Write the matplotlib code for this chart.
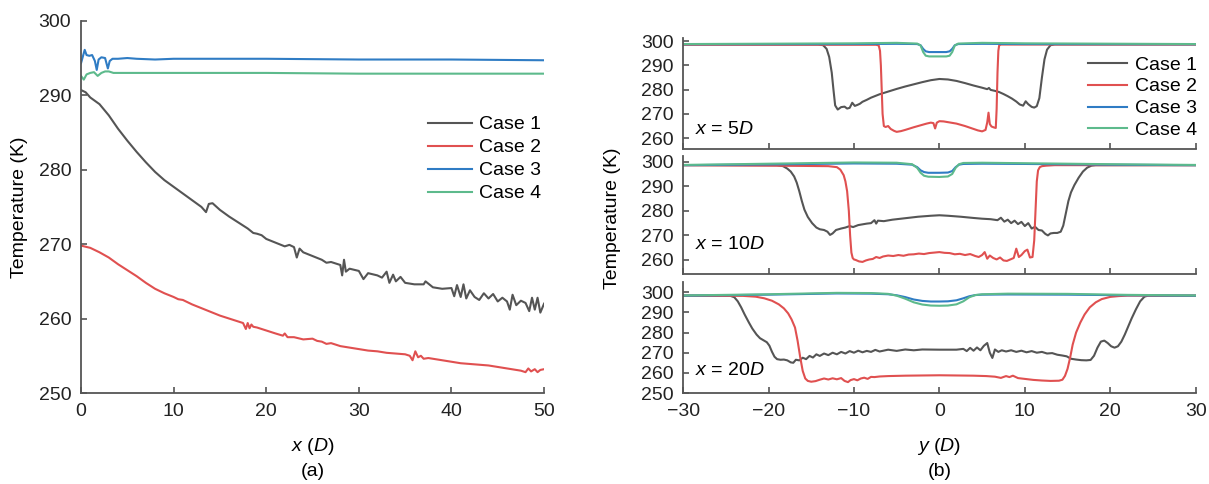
import numpy as np
import matplotlib
matplotlib.use("Agg")
import matplotlib.pyplot as plt

plt.rcParams['font.family'] = ['Liberation Sans', 'DejaVu Sans']
plt.rcParams['mathtext.fontset'] = 'custom'
plt.rcParams['mathtext.rm'] = 'Liberation Sans'
plt.rcParams['mathtext.it'] = 'Liberation Sans:italic'

labels = ['Case 1', 'Case 2', 'Case 3', 'Case 4']
colors = ['#555555', '#e05050', '#2f7cc4', '#5dba8c']

# ---- (a) centreline temperature vs x ----
a1_x = [0, 0.5, 1, 2, 3, 4, 5, 6, 7, 8,
        9, 10, 11, 12, 13, 13.5, 13.8, 14.2, 15, 16,
        17, 18, 18.6, 19, 19.5, 20, 21, 22, 22.5, 23,
        23.3, 23.6, 24, 25, 26, 26.5, 27, 28, 28.2, 28.4,
        28.6, 29, 30, 30.5, 31, 32, 32.5, 33, 33.3, 33.7,
        34, 34.5, 35, 36, 37, 37.2, 38, 39, 40, 40.3,
        40.6, 41, 41.3, 41.6, 42, 42.5, 43, 43.5, 44, 44.5,
        45, 45.5, 46, 46.3, 46.6, 47, 47.5, 48, 48.4, 48.7,
        49, 49.3, 49.6, 50]
a1_T = [290.7, 290.4, 289.7, 288.8, 287.3, 285.5, 283.9, 282.4, 281.0, 279.7,
        278.6, 277.7, 276.8, 275.9, 275.0, 274.3, 275.4, 275.5, 274.6, 273.7,
        272.9, 272.1, 271.5, 271.4, 271.2, 270.7, 270.2, 269.7, 269.9, 269.6,
        268.2, 269.4, 268.9, 268.4, 267.9, 267.5, 267.6, 267.2, 265.8, 267.9,
        266.3, 266.7, 266.4, 265.3, 266.1, 265.8, 265.5, 266.3, 264.8, 265.9,
        265.0, 265.6, 264.8, 264.6, 264.6, 265.0, 264.2, 264.0, 264.1, 263.0,
        264.5, 262.9, 264.6, 262.7, 263.8, 262.9, 262.5, 263.4, 262.7, 263.3,
        262.3, 262.8, 262.3, 261.2, 263.2, 261.8, 262.4, 262.1, 261.0, 262.8,
        261.2, 262.8, 260.8, 262.0]

a2_x = [0, 1, 2, 3, 4, 5, 6, 7, 8, 9,
        10, 10.5, 11, 12, 13, 14, 15, 16, 17, 17.5,
        17.8, 18.0, 18.2, 18.4, 18.6, 19, 20, 21, 21.8, 22,
        22.3, 23, 24, 25, 25.5, 26, 26.5, 27, 28, 29,
        30, 31, 32, 33, 34, 35, 35.5, 35.8, 36.1, 36.4,
        36.7, 37, 37.5, 38, 39, 40, 41, 42, 43, 44,
        45, 46, 47, 47.5, 48, 48.3, 48.6, 49, 49.3, 49.6,
        50]
a2_T = [269.8, 269.5, 268.9, 268.2, 267.3, 266.5, 265.7, 264.8, 264.0, 263.4,
        262.9, 262.6, 262.5, 261.9, 261.4, 260.9, 260.4, 260.0, 259.6, 259.4,
        258.6, 259.4, 258.7, 259.2, 258.9, 258.8, 258.4, 258.0, 257.7, 258.0,
        257.5, 257.5, 257.2, 257.3, 257.0, 256.9, 256.6, 256.7, 256.3, 256.1,
        255.9, 255.7, 255.6, 255.4, 255.3, 255.2, 255.0, 254.4, 255.6, 254.8,
        255.0, 254.6, 254.7, 254.6, 254.4, 254.2, 254.0, 253.9, 253.8, 253.7,
        253.5, 253.3, 253.1, 253.0, 252.8, 253.3, 252.9, 253.2, 252.8, 253.1,
        253.2]

a3_x = [0, 0.2, 0.4, 0.6, 0.9, 1.2, 1.5, 1.7, 1.9, 2.2, 2.6, 2.9, 3.1, 3.4,
        4, 5, 6, 8, 10, 20, 30, 40, 50]
a3_T = [294.3, 295.2, 296.1, 295.4, 295.3, 295.4, 294.6, 293.4, 294.8, 295.1,
        295.0, 293.6, 294.6, 294.9, 294.9, 295.0, 294.9, 294.8, 294.9, 294.9,
        294.8, 294.8, 294.7]

a4_x = [0, 0.3, 0.6, 1.0, 1.4, 1.8, 2.2, 2.6, 3.0, 3.5, 4, 6, 10, 20, 30, 40, 50]
a4_T = [292.6, 292.1, 292.8, 293.0, 293.1, 292.6, 293.0, 293.2, 293.2, 293.0,
        293.0, 293.0, 293.0, 293.0, 292.9, 292.9, 292.9]

# ---- (b) profiles across y at x = 5D ----
b5_c1_y = [-30, -14.2, -13.6, -13.2, -12.9, -12.6, -12.4, -12.2, -11.9, -11.5,
           -11.1, -10.8, -10.5, -10.2, -9.9, -9.6, -9.3, -9.0, -8.5, -8,
           -7, -6, -5, -4, -3, -2, -1, 0, 1, 2,
           3, 4, 5, 5.6, 5.8, 6.0, 6.5, 7, 7.5, 8,
           8.5, 9, 9.4, 9.8, 10.1, 10.4, 10.8, 11.1, 11.4, 11.7,
           12.0, 12.3, 12.6, 13.0, 13.5, 30]
b5_c1_T = [298.7, 298.7, 298.3, 296.8, 293.5, 287, 280, 273.5, 271.8, 272.8,
           273.0, 272.2, 272.5, 274.6, 273.3, 273.7, 274.2, 275.0, 275.8, 276.7,
           278.1, 279.2, 280.3, 281.3, 282.2, 283.1, 283.9, 284.4, 284.2, 283.6,
           282.7, 281.7, 280.8, 280.2, 280.7, 279.9, 279.5, 279.0, 278.2, 277.3,
           276.3, 275.1, 273.9, 273.4, 275.2, 274.0, 272.9, 272.6, 273.2, 276.5,
           285, 292.5, 296.5, 298.3, 298.7, 298.7]
b5_c2_y = [-30, -7.4, -7.1, -6.95, -6.85, -6.75, -6.65, -6.5, -6.3, -6.0,
           -5.7, -5.3, -5.0, -4.5, -4, -3, -2, -1.5, -1, -0.7,
           -0.5, -0.3, 0, 0.5, 1, 2, 3, 4, 4.5, 5.0,
           5.4, 5.6, 5.75, 5.9, 6.1, 6.4, 6.6, 6.7, 6.8, 6.9,
           7.0, 7.2, 30]
b5_c2_T = [298.5, 298.5, 298.2, 296, 290, 280, 270, 265, 264.6, 265.0,
           263.8, 263.0, 262.6, 262.9, 263.4, 264.5, 265.5, 266.0, 266.4, 266.2,
           264.0, 266.4, 267.0, 266.9, 266.6, 266.0, 265.0, 263.8, 263.2, 262.8,
           263.4, 266.5, 270.5, 265.8, 264.8, 264.4, 264.2, 272, 287, 296,
           298.3, 298.6, 298.6]
b5_c34_y = [-30, -10, -5, -2.6, -2.2, -1.9, -1.6, -1.2, 0, 0.8,
            1.2, 1.5, 1.8, 2.2, 5, 10, 30]
b5_c3_T = [298.7, 298.8, 298.9, 298.8, 298.3, 296.8, 295.8, 295.5, 295.5, 295.5,
           295.8, 296.8, 298.3, 298.8, 298.9, 298.8, 298.7]
b5_c4_T = [298.8, 299.1, 299.3, 299.0, 298.2, 295.5, 294.0, 293.7, 293.7, 293.7,
           294.0, 295.5, 298.2, 299.0, 299.3, 299.1, 298.8]

# ---- x = 10D ----
b10_c1_y = [-30, -19, -18.3, -17.8, -17.4, -17.0, -16.7, -16.4, -16.1, -15.8,
            -15.4, -14.9, -14.4, -14.0, -13.5, -13.1, -12.8, -12.5, -12.1, -11.5,
            -11, -10.5, -10.1, -9.5, -9, -8.5, -8, -7.6, -7.4, -7.2,
            -6.5, -5.5, -4, -2.5, -1, 0, 1, 2.5, 4, 5,
            6, 6.8, 7.2, 7.6, 8, 8.4, 8.8, 9.2, 9.6, 10,
            10.4, 10.8, 11.2, 11.6, 12.0, 12.4, 12.7, 13.0, 13.4, 13.8,
            14.2, 14.5, 14.8, 15.1, 15.4, 15.8, 16.3, 16.8, 17.3, 17.8,
            18.3, 30]
b10_c1_T = [298.6, 298.6, 298.2, 297.2, 296.0, 294, 291.5, 288, 284, 280.5,
            277.5, 275, 273.2, 272.5, 272.2, 271.5, 270.2, 270.8, 272.2, 272.8,
            273.2, 273.8, 273.4, 274.2, 274.5, 274.8, 275.0, 276.2, 274.8, 276,
            275.8, 276.4, 277, 277.6, 278, 278.2, 278, 277.6, 277.1, 276.8,
            276.6, 276.2, 277.2, 275.6, 276.4, 275, 276, 274.6, 275.5, 273.8,
            275, 272.8, 273.5, 272.2, 272, 270.6, 270, 270.8, 271, 271,
            271.5, 274, 279, 284, 287.5, 290.5, 293.5, 296, 297.6, 298.4,
            298.6, 298.6]
b10_c2_y = [-30, -20, -16, -13, -12, -11.6, -11.2, -11.0, -10.8, -10.6,
            -10.45, -10.3, -10.15, -10.0, -9.8, -9.4, -9.0, -8.6, -8.2, -7.8,
            -7.4, -7.0, -6.6, -6.0, -5.4, -4.8, -4.2, -3.6, -3.0, -2.4,
            -1.8, -1.2, -0.6, 0, 0.6, 1.2, 1.8, 2.4, 3.0, 3.6,
            4.2, 4.6, 5.0, 5.3, 5.6, 5.9, 6.3, 6.7, 7.1, 7.5,
            7.9, 8.3, 8.7, 9.0, 9.3, 9.6, 10.0, 10.3, 10.6, 10.9,
            11.1, 11.25, 11.4, 11.55, 11.75, 12.0, 12.5, 13.5, 30]
b10_c2_T = [298.6, 298.4, 298.3, 298.2, 297.8, 296.8, 294.5, 292, 288, 280,
            270, 263, 260.8, 260.2, 260.0, 259.4, 259.2, 259.8, 260.2, 260.4,
            261.2, 260.8, 261.4, 261.8, 261.6, 262.0, 261.7, 262.2, 262.3, 262.6,
            262.4, 262.8, 263.0, 263.2, 262.9, 262.8, 262.3, 262.5, 262.0, 262.4,
            261.6, 261.2, 262.0, 263.2, 260.5, 261.8, 260.8, 260.2, 261.0, 259.8,
            259.6, 260.2, 260.8, 264.6, 261.2, 262.0, 263.6, 264.2, 261.0, 261.2,
            268, 280, 292, 296.5, 297.8, 298.2, 298.4, 298.6, 298.6]
b10_c34_y = [-30, -20, -10, -5, -3.2, -2.6, -2.2, -1.8, -1.3, 0,
             1.0, 1.5, 1.9, 2.3, 2.8, 5, 10, 20, 30]
b10_c3_T = [298.6, 298.9, 299.3, 299.2, 298.8, 297.8, 296.5, 295.8, 295.5, 295.5,
            295.6, 296.2, 297.8, 298.8, 299.1, 299.2, 299.1, 298.8, 298.6]
b10_c4_T = [298.7, 299.2, 299.7, 299.6, 299.0, 297.5, 295.5, 294.3, 293.9, 293.8,
            294.0, 295.0, 297.5, 299.0, 299.5, 299.6, 299.4, 299.0, 298.7]

# ---- x = 20D ----
b20_c1_y = [-30, -24.5, -24.0, -23.6, -23.2, -22.8, -22.3, -21.9, -21.4, -21.0,
            -20.6, -20.2, -19.9, -19.6, -19.3, -19.0, -18.6, -18.2, -17.8, -17.4,
            -17.1, -16.8, -16.4, -16.0, -15.6, -15.2, -14.8, -14.4, -14.0, -13.5,
            -13.0, -12.5, -12.0, -11.5, -11.0, -10.5, -10.0, -9.5, -9.0, -8.5,
            -8.0, -7.5, -7.0, -6.0, -5.0, -4.0, -3.0, -2.0, 0, 2.0,
            2.8, 3.2, 3.6, 4.0, 4.4, 4.8, 5.2, 5.6, 5.9, 6.2,
            6.5, 6.9, 7.3, 7.8, 8.4, 9.0, 9.6, 10.2, 10.8, 11.4,
            12.0, 12.6, 13.2, 13.8, 14.4, 14.9, 15.4, 16.0, 16.6, 17.2,
            17.7, 18.1, 18.5, 18.9, 19.3, 19.7, 20.1, 20.5, 20.9, 21.3,
            21.7, 22.1, 22.5, 23.0, 23.5, 24.0, 24.4, 30]
b20_c1_T = [298.3, 298.3, 297.5, 295.5, 292.5, 289, 285, 282, 279, 277.2,
            276.2, 275.2, 273.5, 270.5, 268, 266.8, 266.5, 266.6, 266.2, 265.2,
            265.0, 266.5, 266.2, 267.5, 266.8, 268.4, 267.6, 269.2, 268.4, 269.6,
            268.8, 270.0, 269.2, 270.4, 269.6, 270.8, 270.0, 271.0, 270.2, 270.9,
            270.4, 271.4, 270.6, 271.5, 270.9, 271.6, 271.2, 271.6, 271.5, 271.5,
            271.9, 270.8, 272.4, 271.0, 272.6, 271.2, 273.4, 274.8, 270.0, 267.4,
            271.6, 270.4, 271.2, 270.6, 271.2, 270.4, 271.0, 270.2, 270.8, 270.0,
            270.4, 269.6, 269.8, 269.0, 268.6, 268.2, 267.0, 266.6, 266.3, 266.2,
            266.4, 268.5, 272.5, 275.5, 276.0, 274.8, 273.2, 272.5, 273.2, 275.5,
            279, 283, 287, 291.5, 295.5, 297.8, 298.3, 298.3]
b20_c2_y = [-30, -23, -21.5, -20.5, -19.6, -18.8, -18.2, -17.7, -17.3, -16.9,
            -16.6, -16.3, -16.0, -15.7, -15.4, -15.0, -14.5, -14.0, -13.5, -13.0,
            -12.5, -12.0, -11.5, -11.1, -10.7, -10.4, -10.0, -9.6, -9.2, -8.8,
            -8.4, -8.0, -7.6, -7.0, -6.0, -4.0, -2.0, 0, 2.0, 4.0,
            5.5, 6.5, 7.2, 7.8, 8.2, 8.6, 9.2, 10.0, 11.0, 12.0,
            13.0, 14.0, 14.4, 14.7, 15.0, 15.3, 15.6, 16.0, 16.5, 17.0,
            17.6, 18.3, 19.0, 20.0, 21.0, 22.0, 30]
b20_c2_T = [298.3, 298.2, 297.8, 297.0, 295.8, 294.0, 292.0, 289.5, 286.5, 282.5,
            276, 268, 261, 257.2, 256.0, 255.6, 255.9, 256.6, 257.2, 256.7,
            257.3, 256.8, 257.4, 256.0, 255.4, 256.4, 256.9, 256.3, 257.2, 257.6,
            257.0, 258.0, 257.9, 258.2, 258.4, 258.6, 258.7, 258.8, 258.7, 258.6,
            258.4, 258.1, 257.5, 258.4, 257.9, 258.6, 257.4, 257.0, 256.5, 256.2,
            256.0, 256.1, 256.6, 258.5, 262, 267.5, 274, 280, 285, 289,
            292.5, 295, 296.6, 297.7, 298.1, 298.3, 298.3]
b20_c34_y = [-30, -20, -12, -8, -6, -5, -4, -3, -2, -1,
             0, 1, 2, 2.8, 3.5, 4.2, 5, 8, 15, 22, 30]
b20_c3_T = [298.3, 298.8, 299.4, 299.3, 299.0, 298.5, 297.6, 296.4, 295.7, 295.4,
            295.4, 295.5, 296.0, 297.0, 298.0, 298.6, 298.8, 298.9, 298.8, 298.5, 298.3]
b20_c4_T = [298.4, 299.0, 299.7, 299.6, 299.2, 298.3, 296.8, 295.0, 293.9, 293.4,
            293.3, 293.4, 294.0, 295.5, 297.5, 298.6, 299.0, 299.3, 299.2, 298.7, 298.4]

fs = 14
axcol = '#555555'


def style(ax, show_x=True):
    for s in ['top', 'right']:
        ax.spines[s].set_visible(False)
    for s in ['left', 'bottom']:
        ax.spines[s].set_color(axcol)
        ax.spines[s].set_linewidth(1.3)
    ax.tick_params(direction='in', length=4, width=1.2, color=axcol,
                   labelsize=fs, labelcolor='#222222', pad=7)
    if not show_x:
        ax.tick_params(axis='x', labelbottom=False)


fig = plt.figure(figsize=(12.09, 4.84), dpi=100)

# panel (a)
ax = fig.add_axes([0.067, 0.188, 0.383, 0.769])
for xs, ts, c, lab in zip([a1_x, a2_x, a3_x, a4_x], [a1_T, a2_T, a3_T, a4_T], colors, labels):
    ax.plot(xs, ts, color=c, lw=1.5, label=lab)
ax.set_xlim(0, 50)
ax.set_ylim(250, 300)
ax.set_xticks(np.arange(0, 51, 10))
ax.set_yticks(np.arange(250, 301, 10))
style(ax)
ax.set_ylabel('Temperature (K)', fontsize=fs, labelpad=8)
ax.legend(loc='upper left', bbox_to_anchor=(0.75, 0.745), frameon=False,
          fontsize=fs, handlelength=2.25, handletextpad=0.35, labelspacing=0.28,
          borderpad=0, borderaxespad=0)
fig.text(0.2585, 0.077, r'$x$ ($D$)', ha='center', va='center', fontsize=fs)
fig.text(0.2585, 0.026, '(a)', ha='center', va='center', fontsize=fs)

# panel (b)
boxes = [[0.565, 0.692, 0.424, 0.229],
         [0.565, 0.434, 0.424, 0.244],
         [0.565, 0.188, 0.424, 0.229]]
ylims = [(255.5, 301.2), (254.3, 302.4), (250, 305)]
yticks = [np.arange(260, 301, 10), np.arange(260, 301, 10), np.arange(250, 301, 10)]
tags = [r'$x$ = 5$D$', r'$x$ = 10$D$', r'$x$ = 20$D$']
tag_y = [0.18, 0.25, 0.207]
profiles = [
    [(b5_c1_y, b5_c1_T), (b5_c2_y, b5_c2_T), (b5_c34_y, b5_c3_T), (b5_c34_y, b5_c4_T)],
    [(b10_c1_y, b10_c1_T), (b10_c2_y, b10_c2_T), (b10_c34_y, b10_c3_T), (b10_c34_y, b10_c4_T)],
    [(b20_c1_y, b20_c1_T), (b20_c2_y, b20_c2_T), (b20_c34_y, b20_c3_T), (b20_c34_y, b20_c4_T)],
]
for i in range(3):
    ax = fig.add_axes(boxes[i])
    for (ys, ts), c, lab in zip(profiles[i], colors, labels):
        ax.plot(ys, ts, color=c, lw=1.5, label=lab)
    ax.set_xlim(-30, 30)
    ax.set_ylim(*ylims[i])
    ax.set_xticks(np.arange(-30, 31, 10))
    ax.set_xticklabels(['\u221230', '\u221220', '\u221210', '0', '10', '20', '30'])
    ax.set_yticks(yticks[i])
    style(ax, show_x=(i == 2))
    ax.text(0.023, tag_y[i], tags[i], transform=ax.transAxes, fontsize=fs,
            ha='left', va='center')
    if i == 0:
        ax.legend(loc='upper left', bbox_to_anchor=(0.79, 0.84), frameon=False,
                  fontsize=fs, handlelength=2.0, handletextpad=0.4,
                  labelspacing=0.22, borderpad=0, borderaxespad=0)

fig.text(0.507, 0.55, 'Temperature (K)', rotation=90, ha='center', va='center',
         fontsize=fs)
fig.text(0.777, 0.077, r'$y$ ($D$)', ha='center', va='center', fontsize=fs)
fig.text(0.777, 0.026, '(b)', ha='center', va='center', fontsize=fs)

fig.savefig('out.png', dpi=100)
